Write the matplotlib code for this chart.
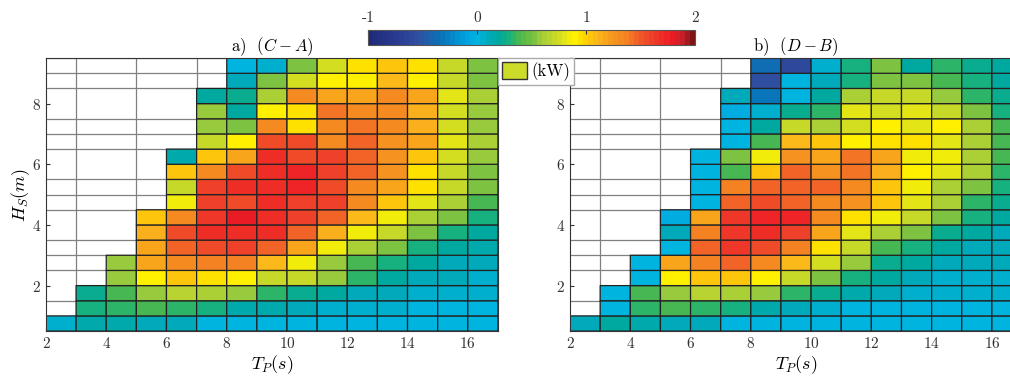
import numpy as np
import matplotlib
matplotlib.use("Agg")
import matplotlib.pyplot as plt
from matplotlib.colors import LinearSegmentedColormap
from matplotlib.patches import Patch

plt.rcParams['font.family'] = 'serif'
plt.rcParams['font.serif'] = ['cmr10', 'DejaVu Serif']
plt.rcParams['mathtext.fontset'] = 'cm'
plt.rcParams['axes.formatter.use_mathtext'] = True
plt.rcParams['font.size'] = 11

N = np.nan

# Tp cell edges (s) and Hs cell edges (m)
tp_edges = np.arange(2, 18, 1)
hs_edges = np.arange(0.5, 10.0, 0.5)

# power difference (kW), rows listed from top (Hs=9.25) to bottom (Hs=0.75)
diff_ca = [
    [N, N, N, N, N, N, 0.0, 0.05, 0.5, 0.75, 0.95, 1.05, 0.95, 0.7, 0.5],
    [N, N, N, N, N, N, 0.12, 0.5, 0.75, 0.9, 0.9, 1.1, 0.9, 0.7, 0.5],
    [N, N, N, N, N, 0.2, 0.25, 0.6, 1.3, 1.2, 1.2, 1.3, 1.2, 0.8, 0.6],
    [N, N, N, N, N, 0.55, 0.2, 0.9, 0.95, 1.4, 1.3, 1.3, 1.15, 0.75, 0.55],
    [N, N, N, N, N, 0.55, 0.5, 1.3, 0.95, 1.3, 1.4, 1.3, 1.15, 0.75, 0.55],
    [N, N, N, N, N, 0.7, 0.9, 1.55, 1.55, 1.3, 1.45, 1.25, 1.2, 0.8, 0.6],
    [N, N, N, N, 0.15, 1.05, 1.2, 1.7, 1.55, 1.6, 1.45, 1.25, 1.05, 0.75, 0.55],
    [N, N, N, N, 1.05, 1.3, 1.55, 1.7, 1.75, 1.6, 1.45, 1.25, 0.95, 0.7, 0.5],
    [N, N, N, N, 0.7, 1.6, 1.7, 1.7, 1.75, 1.55, 1.3, 1.2, 0.95, 0.7, 0.5],
    [N, N, N, N, 0.85, 1.6, 1.55, 1.7, 1.6, 1.6, 1.3, 1.05, 0.8, 0.6, 0.4],
    [N, N, N, 1.05, 1.3, 1.65, 1.8, 1.7, 1.6, 1.45, 1.1, 0.85, 0.6, 0.5, 0.3],
    [N, N, N, 1.15, 1.55, 1.7, 1.7, 1.7, 1.45, 1.15, 0.85, 0.7, 0.5, 0.3, 0.2],
    [N, N, N, 1.2, 1.45, 1.55, 1.6, 1.45, 1.2, 0.85, 0.6, 0.5, 0.3, 0.2, 0.15],
    [N, N, 0.55, 1.2, 1.3, 1.35, 1.35, 1.1, 0.85, 0.55, 0.4, 0.3, 0.2, 0.1, 0.1],
    [N, N, 0.55, 0.9, 1.05, 0.95, 0.9, 0.7, 0.7, 0.55, 0.35, 0.2, 0.1, 0.1, 0.05],
    [N, 0.25, 0.4, 0.55, 0.65, 0.6, 0.55, 0.35, 0.25, 0.2, 0.1, 0.1, 0.05, 0.05, 0.05],
    [N, 0.3, 0.35, 0.4, 0.35, 0.3, 0.15, 0.15, 0.1, 0.05, 0.05, 0.05, 0.0, 0.0, 0.0],
    [0.05, 0.15, 0.15, 0.1, 0.08, 0.03, 0.0, 0.0, 0.0, 0.0, 0.0, 0.0, 0.0, 0.0, 0.0],
]

diff_db = [
    [N, N, N, N, N, N, -0.35, -0.6, 0.05, 0.3, 0.5, 0.2, 0.35, 0.25, 0.2],
    [N, N, N, N, N, N, -0.55, 0.0, 0.1, 0.3, 0.5, 0.5, 0.4, 0.3, 0.2],
    [N, N, N, N, N, 0.1, -0.3, 0.0, 0.2, 0.6, 0.7, 0.7, 0.55, 0.35, 0.25],
    [N, N, N, N, N, -0.05, 0.05, 0.25, 0.35, 0.8, 0.75, 0.8, 0.7, 0.5, 0.3],
    [N, N, N, N, N, 0.0, 0.2, 0.7, 0.6, 0.75, 0.9, 0.8, 0.9, 0.6, 0.4],
    [N, N, N, N, N, 0.0, 0.4, 1.1, 1.05, 0.9, 0.95, 0.95, 0.8, 0.6, 0.4],
    [N, N, N, N, 0.0, 0.5, 0.85, 1.25, 1.2, 1.4, 1.2, 0.85, 0.85, 0.6, 0.4],
    [N, N, N, N, 0.0, 0.4, 1.05, 1.45, 1.25, 1.4, 1.15, 0.9, 0.8, 0.6, 0.35],
    [N, N, N, N, 0.0, 1.35, 1.45, 1.45, 1.45, 1.3, 1.05, 0.85, 0.6, 0.5, 0.3],
    [N, N, N, N, 0.0, 1.45, 1.55, 1.45, 1.3, 1.25, 1.05, 0.8, 0.6, 0.35, 0.25],
    [N, N, N, -0.05, 1.2, 1.65, 1.75, 1.75, 1.3, 0.95, 0.85, 0.7, 0.5, 0.3, 0.2],
    [N, N, N, 0.08, 1.35, 1.65, 1.7, 1.6, 1.2, 0.8, 0.6, 0.5, 0.25, 0.2, 0.1],
    [N, N, N, 0.0, 1.45, 1.65, 1.55, 1.35, 0.95, 0.7, 0.4, 0.3, 0.2, 0.1, 0.1],
    [N, N, 0.0, 1.2, 1.35, 1.45, 1.3, 1.1, 0.75, 0.55, 0.25, 0.2, 0.1, 0.08, 0.08],
    [N, N, 0.0, 0.9, 1.05, 1.05, 0.9, 0.7, 0.5, 0.3, 0.2, 0.1, 0.05, 0.05, 0.05],
    [N, 0.0, 0.4, 0.55, 0.65, 0.6, 0.55, 0.35, 0.25, 0.15, 0.1, 0.05, 0.05, 0.05, 0.05],
    [N, 0.0, 0.35, 0.4, 0.35, 0.3, 0.15, 0.1, 0.05, 0.02, 0.02, 0.02, 0.02, 0.02, 0.02],
    [0.1, 0.2, 0.15, 0.1, 0.08, 0.03, 0.0, 0.0, 0.0, 0.0, 0.0, 0.0, 0.0, 0.0, 0.0],
]

titles = [r'a)  $(C-A)$', r'b)  $(D-B)$']
cbar_ticks = [-1, 0, 1, 2]
cbar_labels = ['-1', '0', '1', '2']

vmin, vmax = -1, 2
stops = [(-1.0, '#1f2a78'), (-0.7, '#2b3f97'), (-0.55, '#3050a0'), (-0.35, '#0a72b8'),
         (-0.1, '#00a4e0'), (0.0, '#00b4e0'), (0.1, '#00aab8'), (0.2, '#00a99d'),
         (0.3, '#1ab27a'), (0.4, '#50b848'), (0.5, '#70bf44'), (0.6, '#a6ce39'),
         (0.75, '#d0dc24'), (0.9, '#fff200'), (1.0, '#ffd200'), (1.1, '#fbb81b'),
         (1.25, '#f7981d'), (1.4, '#f47f24'), (1.5, '#f05a28'), (1.65, '#ef3a2a'),
         (1.8, '#ed1c24'), (1.9, '#c8202a'), (2.0, '#7f1416')]
cmap = LinearSegmentedColormap.from_list(
    'wec', [((v - vmin) / (vmax - vmin), c) for v, c in stops], N=64)

fig = plt.figure(figsize=(10.1, 3.81), dpi=100)
ax1 = fig.add_axes([0.0455, 0.131, 0.4475, 0.7165])
ax2 = fig.add_axes([0.5644, 0.131, 0.4475, 0.7165])

for ax, data, title in zip([ax1, ax2], [diff_ca, diff_db], titles):
    z = np.ma.masked_invalid(np.array(data)[::-1])
    ax.set_xticks(tp_edges, minor=True)
    ax.set_yticks(hs_edges, minor=True)
    ax.grid(which='minor', color='#808080', linewidth=0.9)
    ax.set_axisbelow(True)
    mesh = ax.pcolor(tp_edges, hs_edges, z, cmap=cmap, vmin=vmin, vmax=vmax,
                     edgecolors='#222222', linewidth=0.9)
    ax.set_xlim(2, 17)
    ax.set_ylim(0.5, 9.5)
    ax.set_xticks([2, 4, 6, 8, 10, 12, 14, 16])
    ax.set_yticks([2, 4, 6, 8])
    ax.tick_params(which='both', direction='in', length=0, colors='#333333', labelsize=11)
    ax.tick_params(which='major', length=3)
    for s in ax.spines.values():
        s.set_color('#333333')
    ax.set_title(title, fontsize=12, pad=5)
    ax.set_xlabel(r'$T_P(s)$', fontsize=13, labelpad=2)

ax1.set_ylabel(r'$H_S(m)$', fontsize=13, labelpad=0)

cax = fig.add_axes([0.3644, 0.882, 0.3238, 0.039])
cb = fig.colorbar(mesh, cax=cax, orientation='horizontal')
cb.set_ticks(cbar_ticks)
cb.set_ticklabels(cbar_labels)
cb.ax.xaxis.set_ticks_position('top')
cb.ax.tick_params(direction='in', length=3, colors='#333333', labelsize=11, pad=4)
cb.outline.set_edgecolor('#555555')

leg = fig.legend(handles=[Patch(facecolor='#cddc29', edgecolor='#333333', label='(kW)')],
                 loc='upper left', bbox_to_anchor=(1.0, 1.0), bbox_transform=ax1.transAxes,
                 borderaxespad=0, fontsize=12, handlelength=1.5, handleheight=1.15,
                 handletextpad=0.25, borderpad=0.25, fancybox=False, framealpha=1,
                 edgecolor='#aaaaaa')

fig.savefig('out.png', dpi=100)
